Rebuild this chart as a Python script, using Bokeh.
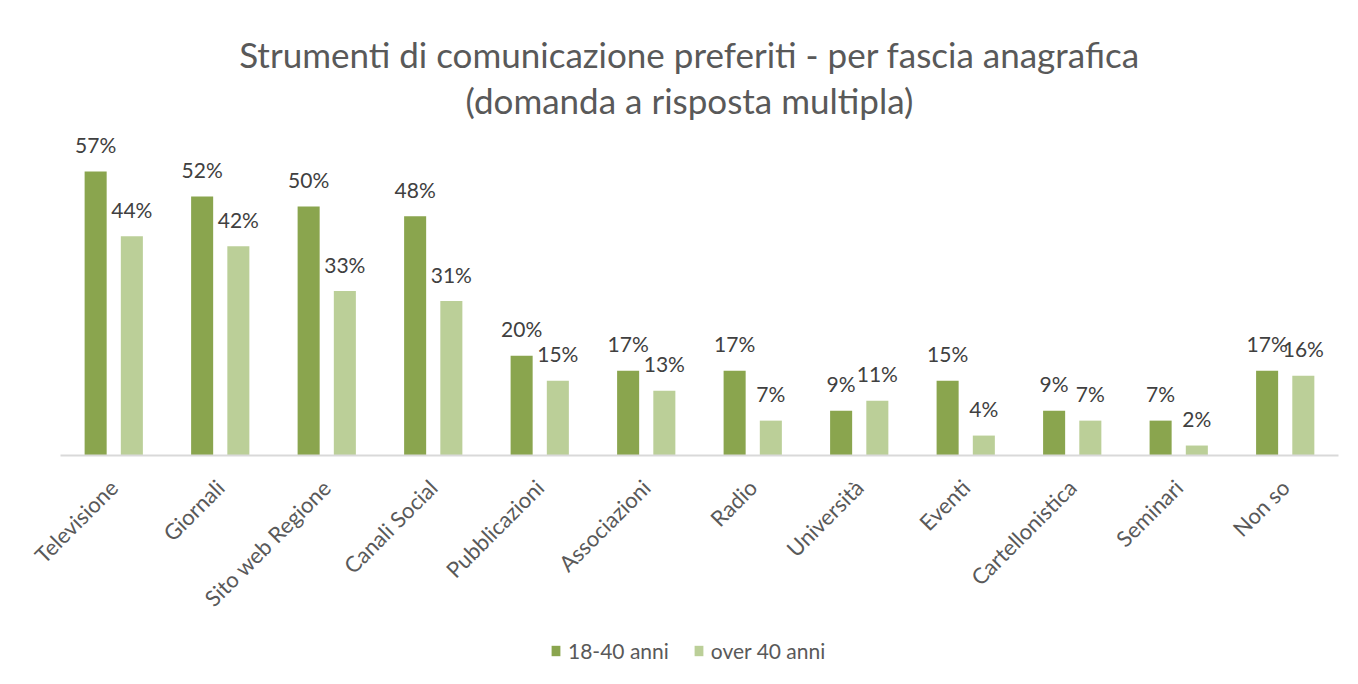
from math import pi
from bokeh.plotting import figure
from bokeh.models import (ColumnDataSource, Range1d, Label, Legend, LegendItem, FixedTicker)
from bokeh.transform import dodge
from bokeh.core.properties import value
from bokeh.embed import file_html
from bokeh.resources import INLINE

categories = ["Televisione", "Giornali", "Sito web Regione", "Canali Social", "Pubblicazioni",
              "Associazioni", "Radio", "Università", "Eventi", "Cartellonistica", "Seminari", "Non so"]
young = [57, 52, 50, 48, 20, 17, 17, 9, 15, 9, 7, 17]
older = [44, 42, 33, 31, 15, 13, 7, 11, 4, 7, 2, 16]
series_names = ["18-40 anni", "over 40 anni"]
title_lines = ["Strumenti di comunicazione preferiti - per fascia anagrafica",
               "(domanda a risposta multipla)"]

DARK = "#8AA54E"
LIGHT = "#BBCF98"
FONT = "Lato"

idx = list(range(len(categories)))
src = ColumnDataSource(dict(
    idx=idx, cat=categories, young=young, older=older,
    young_lbl=[f"{v}%" for v in young], older_lbl=[f"{v}%" for v in older],
))

p = figure(x_range=Range1d(-1.0634, 11.613), y_range=Range1d(-44.36, 91.33),
           width=1350, height=676, frame_width=1350, frame_height=676,
           min_border_left=0, min_border_right=0, min_border_top=0, min_border_bottom=0,
           y_axis_location=None,
           output_backend="svg", toolbar_location=None)
p.outline_line_color = None
p.xgrid.grid_line_color = None
p.ygrid.grid_line_color = None
p.background_fill_color = "white"
p.border_fill_color = "white"

r1 = p.vbar(x=dodge("idx", -0.17), top="young", width=0.207, source=src,
            fill_color=DARK, line_color=None)
r2 = p.vbar(x=dodge("idx", 0.17), top="older", width=0.207, source=src,
            fill_color=LIGHT, line_color=None)

# value labels
for field, lbl, off in (("young", "young_lbl", -0.17), ("older", "older_lbl", 0.17)):
    p.text(x=dodge("idx", off), y=field, text=lbl, source=src,
           text_align="center", text_baseline="alphabetic", y_offset=-27,
           text_font=value(FONT), text_font_size="21px", text_color="#404040")

# category axis sitting at zero
xa = p.xaxis[0]
xa.fixed_location = 0
xa.bounds = (-0.5, len(categories) - 0.5)
xa.ticker = FixedTicker(ticks=idx)
xa.major_label_overrides = {i: c for i, c in zip(idx, categories)}
xa.axis_line_color = "#D9D9D9"
xa.axis_line_width = 2
xa.major_tick_line_color = None
xa.minor_tick_line_color = None
xa.major_tick_out = 0
xa.major_tick_in = 0
xa.major_label_orientation = pi / 4
xa.major_label_text_font = FONT
xa.major_label_text_font_size = "22px"
xa.major_label_text_color = "#595959"
xa.major_label_standoff = 28

for line, yv in zip(title_lines, (80.6, 71.3)):
    p.add_layout(Label(x=5.406, y=yv, text=line, text_align="center", text_baseline="middle",
                       text_font=FONT, text_font_size="35px", text_color="#595959"))

legend = Legend(items=[LegendItem(label=series_names[0], renderers=[r1]),
                       LegendItem(label=series_names[1], renderers=[r2])],
                orientation="horizontal", location=(550, 13),
                border_line_color=None, background_fill_alpha=0,
                label_text_font=FONT, label_text_font_size="21px", label_text_color="#595959",
                glyph_width=11, glyph_height=13, spacing=24, padding=0, margin=0,
                label_standoff=7)
p.add_layout(legend, "center")

open("out.html", "w").write(file_html(p, INLINE))
